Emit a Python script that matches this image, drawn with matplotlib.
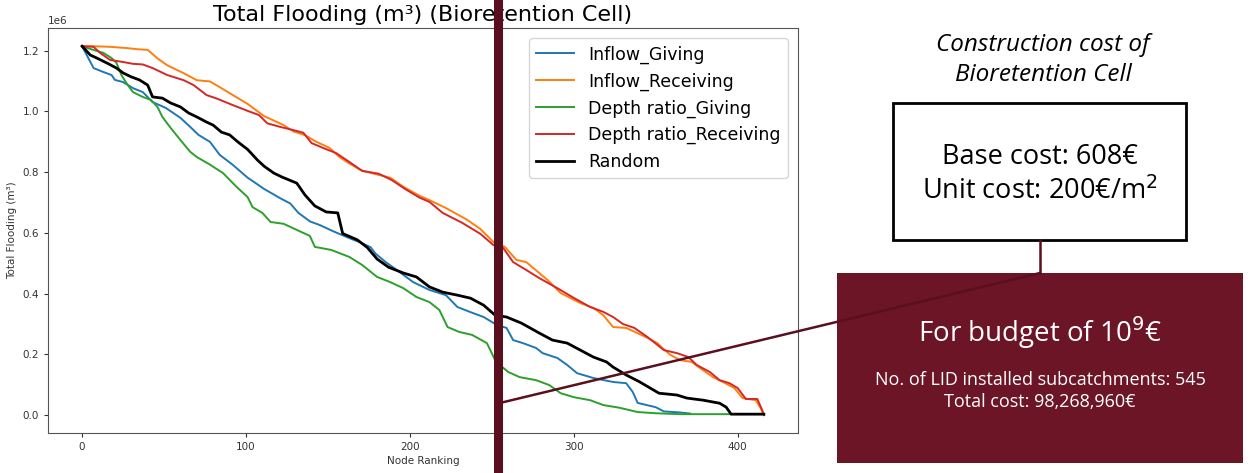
import matplotlib
matplotlib.use("Agg")
import matplotlib.pyplot as plt
from matplotlib.lines import Line2D
from matplotlib.patches import Rectangle
import matplotlib.transforms as mtransforms

# node ranking / total flooding (x1e6)
giving_in_x = [0, 7, 13, 18, 20, 25, 31, 37, 43, 51, 60, 66, 71, 78, 84, 92, 101, 107, 111, 121,
               127, 132, 139, 145, 153, 163, 170, 176, 179, 185, 192, 202, 212, 222, 229, 237, 245,
               253, 259, 263, 269, 277, 281, 290, 296, 302, 312, 324, 332, 336, 339, 350, 355, 364, 371]
giving_in_y = [1.215, 1.143, 1.130, 1.120, 1.104, 1.097, 1.077, 1.064, 1.031, 1.012, 0.979, 0.949,
               0.923, 0.900, 0.857, 0.824, 0.782, 0.760, 0.745, 0.714, 0.697, 0.666, 0.638, 0.626,
               0.606, 0.583, 0.568, 0.553, 0.532, 0.505, 0.478, 0.438, 0.412, 0.395, 0.356, 0.339,
               0.323, 0.297, 0.287, 0.247, 0.237, 0.221, 0.204, 0.188, 0.165, 0.138, 0.122, 0.109,
               0.105, 0.076, 0.040, 0.026, 0.012, 0.009, 0.005]

receiving_in_x = [0, 7, 17, 27, 34, 40, 46, 52, 62, 70, 78, 84, 92, 101, 111, 123, 129, 136, 143,
                  151, 157, 163, 170, 178, 188, 196, 206, 212, 222, 235, 243, 251, 258, 265, 271,
                  284, 292, 304, 312, 318, 324, 332, 344, 351, 354, 359, 365, 372, 377, 385, 391,
                  398, 403, 411, 414, 416]
receiving_in_y = [1.215, 1.215, 1.213, 1.209, 1.205, 1.203, 1.175, 1.152, 1.126, 1.103, 1.099,
                  1.080, 1.054, 1.025, 0.985, 0.955, 0.934, 0.922, 0.900, 0.880, 0.850, 0.829,
                  0.807, 0.795, 0.782, 0.752, 0.722, 0.708, 0.682, 0.643, 0.613, 0.570, 0.554,
                  0.511, 0.504, 0.445, 0.402, 0.369, 0.353, 0.329, 0.290, 0.287, 0.257, 0.237,
                  0.221, 0.198, 0.181, 0.175, 0.155, 0.125, 0.109, 0.089, 0.056, 0.049, 0.023, 0.0]

giving_depth_x = [0, 5, 13, 18, 21, 24, 27, 31, 37, 42, 46, 49, 54, 60, 66, 70, 78, 86, 94, 101,
                  104, 110, 115, 123, 131, 139, 142, 152, 163, 171, 180, 188, 196, 204, 212, 218,
                  223, 230, 238, 247, 252, 256, 260, 267, 277, 285, 292, 300, 310, 318, 328, 339,
                  350, 365, 395]
giving_depth_y = [1.215, 1.206, 1.193, 1.176, 1.160, 1.120, 1.094, 1.064, 1.048, 1.038, 1.015,
                  0.982, 0.946, 0.906, 0.867, 0.850, 0.825, 0.797, 0.753, 0.718, 0.685, 0.666,
                  0.636, 0.630, 0.610, 0.590, 0.554, 0.544, 0.521, 0.494, 0.455, 0.438, 0.418,
                  0.389, 0.372, 0.346, 0.290, 0.274, 0.264, 0.237, 0.181, 0.160, 0.142, 0.125,
                  0.115, 0.099, 0.072, 0.059, 0.049, 0.033, 0.024, 0.010, 0.006, 0.003, 0.003]

receiving_depth_x = [0, 7, 11, 17, 25, 31, 37, 43, 52, 62, 68, 76, 82, 92, 101, 108, 113, 121, 128,
                     135, 140, 147, 155, 163, 171, 181, 189, 197, 206, 212, 220, 232, 243, 251, 257,
                     263, 271, 279, 290, 300, 310, 318, 324, 330, 337, 345, 355, 363, 370, 375, 383,
                     389, 395, 400, 405, 412, 415, 416]
receiving_depth_y = [1.215, 1.213, 1.193, 1.170, 1.163, 1.157, 1.155, 1.143, 1.120, 1.103, 1.087,
                     1.054, 1.043, 1.021, 1.002, 0.988, 0.961, 0.949, 0.940, 0.930, 0.896, 0.880,
                     0.863, 0.834, 0.804, 0.795, 0.774, 0.745, 0.716, 0.702, 0.666, 0.633, 0.597,
                     0.560, 0.550, 0.504, 0.478, 0.451, 0.418, 0.386, 0.356, 0.340, 0.323, 0.300,
                     0.287, 0.257, 0.214, 0.204, 0.191, 0.165, 0.142, 0.115, 0.105, 0.089, 0.053,
                     0.053, 0.016, 0.0]

random_x = [0, 5, 9, 15, 21, 25, 30, 35, 40, 43, 49, 54, 60, 65, 70, 76, 80, 85, 90, 95, 101, 107,
            111, 117, 122, 131, 136, 142, 149, 156, 159, 168, 174, 180, 187, 196, 204, 212, 220,
            229, 237, 245, 252, 259, 268, 279, 287, 296, 304, 312, 320, 324, 332, 340, 352, 363,
            369, 379, 389, 393, 396, 416]
random_y = [1.215, 1.186, 1.176, 1.160, 1.143, 1.127, 1.114, 1.104, 1.087, 1.048, 1.044, 1.028,
            1.015, 0.995, 0.982, 0.965, 0.955, 0.932, 0.923, 0.900, 0.875, 0.840, 0.820, 0.797,
            0.784, 0.764, 0.725, 0.689, 0.669, 0.666, 0.598, 0.577, 0.552, 0.514, 0.487, 0.468,
            0.455, 0.422, 0.405, 0.395, 0.385, 0.362, 0.329, 0.323, 0.303, 0.270, 0.247, 0.237,
            0.214, 0.191, 0.175, 0.158, 0.132, 0.110, 0.072, 0.066, 0.056, 0.049, 0.039, 0.026,
            0.003, 0.003]

labels = ["Inflow_Giving", "Inflow_Receiving", "Depth ratio_Giving", "Depth ratio_Receiving", "Random"]
budget_rank = 254

maroon = "#6b1526"
dark_maroon = "#5a0f1f"

fig = plt.figure(figsize=(12.6, 4.73), dpi=100)
ax = fig.add_axes([0.0381, 0.0846, 0.5952, 0.8562])

series = [(giving_in_x, giving_in_y, "tab:blue", 1.4),
          (receiving_in_x, receiving_in_y, "tab:orange", 1.4),
          (giving_depth_x, giving_depth_y, "tab:green", 1.4),
          (receiving_depth_x, receiving_depth_y, "tab:red", 1.4),
          (random_x, random_y, "black", 2.0)]
for (xs, ys, c, lw), lab in zip(series, labels):
    ax.plot(xs, [v * 1e6 for v in ys], color=c, lw=lw, label=lab)

ax.set_xlim(-20.8, 436.8)
ax.set_ylim(-0.059e6, 1.275e6)
ax.set_xticks([0, 100, 200, 300, 400])
ax.tick_params(labelsize=7.5, colors="#333333", length=3)
ax.yaxis.get_offset_text().set_fontsize(7.5)
for s in ax.spines.values():
    s.set_color("#555555")
ax.set_xlabel("Node Ranking", fontsize=7.5, color="#333333", labelpad=3)
ax.set_ylabel("Total Flooding (m³)", fontsize=7.5, color="#333333", labelpad=4)
ax.set_title("Total Flooding (m³) (Bioretention Cell)", fontsize=16, pad=5)
ax.legend(loc="upper right", fontsize=12.5, handlelength=2.2, borderaxespad=0.6)

# vertical budget marker, crossing the whole figure height
trans = mtransforms.blended_transform_factory(ax.transData, fig.transFigure)
fig.add_artist(Line2D([budget_rank, budget_rank], [0, 1], transform=trans,
                      color=dark_maroon, lw=6.5, clip_on=False))

# connector lines and boxes (figure fraction)
W, H = 1260.0, 473.0
def fx(px):
    return px / W
def fy(py):
    return 1 - py / H

fig.add_artist(Line2D([fx(504), fx(1040)], [fy(402), fy(273)], color=dark_maroon, lw=1.8))
fig.add_artist(Line2D([fx(1040), fx(1040)], [fy(240), fy(273)], color=dark_maroon, lw=1.8))

fig.add_artist(Rectangle((fx(893), fy(240)), fx(1186) - fx(893), fy(103) - fy(240),
                         transform=fig.transFigure, facecolor="white", edgecolor="black", lw=2))
fig.add_artist(Rectangle((fx(837), fy(463)), fx(1243) - fx(837), fy(273) - fy(463),
                         transform=fig.transFigure, facecolor=maroon, edgecolor="none"))

font = ["Open Sans", "DejaVu Sans"]
fig.text(fx(1043), fy(45), "Construction cost of", ha="center", va="center",
         fontsize=17.5, style="italic", family=font)
fig.text(fx(1043), fy(75), "Bioretention Cell", ha="center", va="center",
         fontsize=17.5, style="italic", family=font)
fig.text(fx(1040), fy(157), "Base cost: 608€", ha="center", va="center", fontsize=19.5, family=font)
fig.text(fx(1040), fy(192), "Unit cost: 200€/m$^2$", ha="center", va="center", fontsize=19.5, family=font)
fig.text(fx(1040), fy(333), "For budget of 10$^9$€", ha="center", va="center", fontsize=20,
         color="white", family=font)
fig.text(fx(1040), fy(380), "No. of LID installed subcatchments: 545", ha="center", va="center",
         fontsize=13, color="white", family=font)
fig.text(fx(1040), fy(402), "Total cost: 98,268,960€", ha="center", va="center",
         fontsize=13, color="white", family=font)

fig.savefig("out.png", dpi=100)
